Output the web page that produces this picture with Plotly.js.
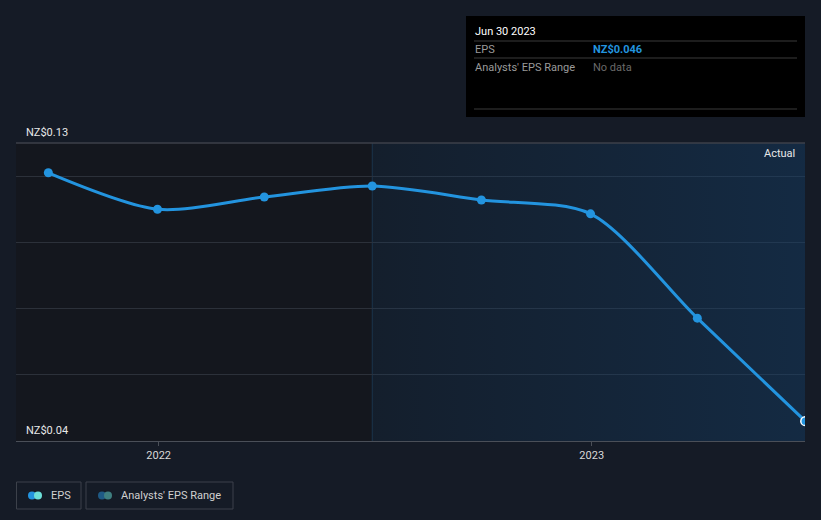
<!DOCTYPE html>
<html>
<head>
<meta charset="utf-8">
<script src="https://cdn.plot.ly/plotly-3.0.1.min.js"></script>
<style>html,body{margin:0;padding:0;background:#151b26;}#chart{width:821px;height:520px;}</style>
</head>
<body>
<div id="chart"></div>
<script>
const dates = ['2021-09-30','2021-12-31','2022-03-31','2022-06-30','2022-09-30','2022-12-31','2023-03-31','2023-06-30'];
const eps = [0.121, 0.110, 0.1137, 0.117, 0.1128, 0.1086, 0.0771, 0.046];
const yTickLabels = ['NZ$0.13', 'NZ$0.04'];
const xTickVals = ['2022-01-01', '2023-01-01'];
const xTickText = ['2022', '2023'];
const forecastStart = '2022-06-30';
const xRange = ['2021-09-02 18:00', '2023-06-29 18:00'];
const yRange = [0.04, 0.13];

const traces = [{
  x: [forecastStart, xRange[1], xRange[1], forecastStart], y: [yRange[0], yRange[0], yRange[1], yRange[1]],
  type: 'scatter', mode: 'none', fill: 'toself',
  fillgradient: {type: 'horizontal', colorscale: [[0, 'rgba(20,65,110,0.18)'], [1, 'rgba(20,65,110,0.46)']]},
  hoverinfo: 'skip'
}, {
  x: dates, y: eps, type: 'scatter', mode: 'lines+markers',
  line: {color: '#2394df', width: 3, shape: 'spline', smoothing: 0.8},
  marker: {color: '#2394df', size: 9},
  hoverinfo: 'skip', cliponaxis: true
}, {
  x: [dates[dates.length-1]], y: [eps[eps.length-1]], type: 'scatter', mode: 'markers',
  marker: {color: '#2394df', size: 9, line: {color: '#ffffff', width: 1.5}},
  hoverinfo: 'skip', cliponaxis: true
}];

const layout = {
  width: 821, height: 520,
  margin: {l: 16, r: 16, t: 143, b: 79},
  paper_bgcolor: '#151b26', plot_bgcolor: '#14171e',
  showlegend: false,
  font: {family: 'Roboto, sans-serif', color: '#e0e0e0', size: 11},
  xaxis: {type: 'date', range: xRange, tickvals: xTickVals, ticktext: xTickText,
    showgrid: false, zeroline: false, showline: true, linecolor: '#4a4f58', linewidth: 1,
    ticks: 'outside', ticklen: 4, tickcolor: '#4a4f58', tickfont: {color: '#d8d8d8', size: 11}, fixedrange: true},
  yaxis: {range: yRange, tick0: 0, dtick: 0.02, showticklabels: false, showgrid: true,
    gridcolor: '#2c313a', gridwidth: 1, zeroline: false, showline: false, fixedrange: true},
  shapes: [
    {type: 'line', xref: 'x', yref: 'paper', x0: forecastStart, x1: forecastStart, y0: 0, y1: 1,
     line: {color: '#1c3348', width: 1}, layer: 'below'},
    {type: 'line', xref: 'paper', yref: 'paper', x0: 0, x1: 1, y0: 1, y1: 1,
     line: {color: '#3c414a', width: 1.5}},
    // tooltip box
    {type: 'rect', xref: 'paper', yref: 'paper', xsizemode: 'pixel', ysizemode: 'pixel',
     xanchor: 0, yanchor: 1, x0: 450, x1: 789, y0: 127, y1: 26, fillcolor: '#000000', line: {width: 0}},
    {type: 'line', xref: 'paper', yref: 'paper', xsizemode: 'pixel', ysizemode: 'pixel',
     xanchor: 0, yanchor: 1, x0: 458, x1: 781, y0: 102, y1: 102, line: {color: '#3a3a3a', width: 1}},
    {type: 'line', xref: 'paper', yref: 'paper', xsizemode: 'pixel', ysizemode: 'pixel',
     xanchor: 0, yanchor: 1, x0: 458, x1: 781, y0: 85, y1: 85, line: {color: '#3a3a3a', width: 1}},
    {type: 'line', xref: 'paper', yref: 'paper', xsizemode: 'pixel', ysizemode: 'pixel',
     xanchor: 0, yanchor: 1, x0: 458, x1: 781, y0: 34, y1: 34, line: {color: '#3a3a3a', width: 1}},
    // legend boxes
    {type: 'rect', xref: 'paper', yref: 'paper', xsizemode: 'pixel', ysizemode: 'pixel',
     xanchor: 0, yanchor: 0, x0: 0.5, x1: 65, y0: -41, y1: -68, fillcolor: 'rgba(0,0,0,0)', line: {color: '#3c414a', width: 1}},
    {type: 'rect', xref: 'paper', yref: 'paper', xsizemode: 'pixel', ysizemode: 'pixel',
     xanchor: 0, yanchor: 0, x0: 70, x1: 217, y0: -41, y1: -68, fillcolor: 'rgba(0,0,0,0)', line: {color: '#3c414a', width: 1}},
    {type: 'circle', xref: 'paper', yref: 'paper', xsizemode: 'pixel', ysizemode: 'pixel',
     xanchor: 0, yanchor: 0, x0: 12, x1: 20, y0: -50.5, y1: -58.5, fillcolor: '#2394df', line: {width: 0}},
    {type: 'circle', xref: 'paper', yref: 'paper', xsizemode: 'pixel', ysizemode: 'pixel',
     xanchor: 0, yanchor: 0, x0: 18, x1: 26, y0: -50.5, y1: -58.5, fillcolor: '#6de0d8', line: {width: 0}},
    {type: 'circle', xref: 'paper', yref: 'paper', xsizemode: 'pixel', ysizemode: 'pixel',
     xanchor: 0, yanchor: 0, x0: 82, x1: 90, y0: -50.5, y1: -58.5, fillcolor: '#1f5a85', line: {width: 0}},
    {type: 'circle', xref: 'paper', yref: 'paper', xsizemode: 'pixel', ysizemode: 'pixel',
     xanchor: 0, yanchor: 0, x0: 88, x1: 96, y0: -50.5, y1: -58.5, fillcolor: '#3f7f80', line: {width: 0}}
  ],
  annotations: [
    {xref: 'paper', yref: 'y', x: 0, y: yRange[1], text: yTickLabels[0], showarrow: false,
     xanchor: 'left', yanchor: 'bottom', xshift: 8, yshift: 2, font: {color: '#e8e8e8', size: 11}},
    {xref: 'paper', yref: 'y', x: 0, y: yRange[0], text: yTickLabels[1], showarrow: false,
     xanchor: 'left', yanchor: 'bottom', xshift: 8, yshift: 2, font: {color: '#e8e8e8', size: 11}},
    {xref: 'paper', yref: 'paper', x: 1, y: 1, text: 'Actual', showarrow: false,
     xanchor: 'right', yanchor: 'top', xshift: -8, yshift: -2, font: {color: '#e8e8e8', size: 11}},
    {xref: 'paper', yref: 'paper', x: 0, y: 1, text: 'Jun 30 2023', showarrow: false,
     xanchor: 'left', yanchor: 'middle', xshift: 457, yshift: 112, font: {color: '#ffffff', size: 11}},
    {xref: 'paper', yref: 'paper', x: 0, y: 1, text: 'EPS', showarrow: false,
     xanchor: 'left', yanchor: 'middle', xshift: 457, yshift: 94, font: {color: '#9a9a9a', size: 11}},
    {xref: 'paper', yref: 'paper', x: 0, y: 1, text: '<b>NZ$0.046</b>', showarrow: false,
     xanchor: 'left', yanchor: 'middle', xshift: 575, yshift: 94, font: {color: '#2394df', size: 11}},
    {xref: 'paper', yref: 'paper', x: 0, y: 1, text: "Analysts' EPS Range", showarrow: false,
     xanchor: 'left', yanchor: 'middle', xshift: 457, yshift: 76, font: {color: '#9a9a9a', size: 11}},
    {xref: 'paper', yref: 'paper', x: 0, y: 1, text: 'No data', showarrow: false,
     xanchor: 'left', yanchor: 'middle', xshift: 575, yshift: 76, font: {color: '#6a6a6a', size: 11}},
    {xref: 'paper', yref: 'paper', x: 0, y: 0, text: 'EPS', showarrow: false,
     xanchor: 'left', yanchor: 'middle', xshift: 33, yshift: -54.5, font: {color: '#d0d0d0', size: 11}},
    {xref: 'paper', yref: 'paper', x: 0, y: 0, text: "Analysts' EPS Range", showarrow: false,
     xanchor: 'left', yanchor: 'middle', xshift: 103, yshift: -54.5, font: {color: '#d0d0d0', size: 11}}
  ]
};
Plotly.newPlot('chart', traces, layout, {displayModeBar: false, staticPlot: true});
</script>
</body>
</html>
